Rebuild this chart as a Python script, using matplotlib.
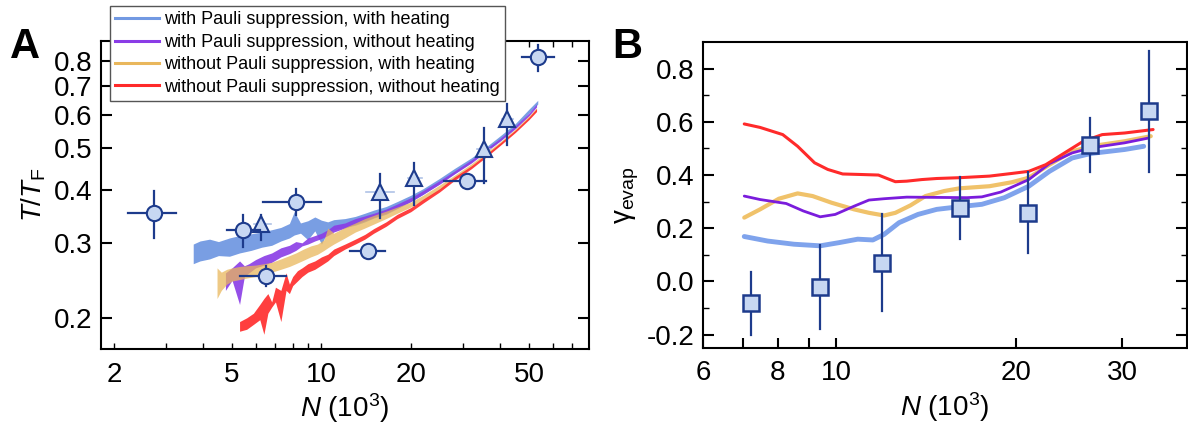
import matplotlib
matplotlib.use("Agg")
import matplotlib.pyplot as plt
from matplotlib.ticker import FixedLocator, FixedFormatter, NullFormatter, NullLocator
from matplotlib.lines import Line2D

plt.rcParams['font.family'] = ['Liberation Sans', 'DejaVu Sans']
plt.rcParams['mathtext.fontset'] = 'custom'
plt.rcParams['mathtext.rm'] = 'Liberation Sans'
plt.rcParams['mathtext.it'] = 'Liberation Sans:italic'
plt.rcParams['mathtext.bf'] = 'Liberation Sans:bold'

# ---------------- Panel A data ----------------
blue_x = [3.7, 3.9, 4.2, 4.5, 4.9, 5.3, 5.8, 6.3, 6.8, 7.3, 7.8, 8.1, 8.5, 9.0, 9.5, 10.0, 10.5, 11.0, 12.0, 13.0, 14.0,
          15.0, 16.5, 18.0, 20.0, 22.0, 25.0, 28.0, 32.0, 36.0, 40.0, 45.0, 50.0, 53.5]
blue_hi = [0.298, 0.303, 0.306, 0.302, 0.308, 0.312, 0.315, 0.318, 0.322, 0.326, 0.333, 0.355, 0.334, 0.338, 0.345,
           0.339, 0.336, 0.340, 0.342, 0.346, 0.352, 0.358, 0.365, 0.375, 0.388, 0.402, 0.425, 0.448, 0.475, 0.505,
           0.535, 0.572, 0.618, 0.648]
blue_lo = [0.268, 0.272, 0.275, 0.280, 0.279, 0.284, 0.288, 0.293, 0.296, 0.303, 0.308, 0.313, 0.316, 0.305, 0.320,
           0.298, 0.318, 0.322, 0.326, 0.330, 0.336, 0.343, 0.350, 0.361, 0.375, 0.390, 0.413, 0.436, 0.464, 0.493,
           0.522, 0.560, 0.605, 0.635]

purple_x = [4.75, 5.0, 5.3, 5.5, 5.7, 6.0, 6.4, 6.8, 7.3, 7.8, 8.2, 8.6, 9.0, 9.5, 10.0, 10.5, 11.0, 12.0, 13.0, 14.0,
            15.0, 16.5, 18.0, 20.0, 22.0, 25.0, 28.0, 32.0, 36.0, 40.0, 45.0, 50.0, 53.0]
purple_hi = [0.255, 0.262, 0.272, 0.265, 0.268, 0.274, 0.280, 0.284, 0.292, 0.296, 0.302, 0.300, 0.308, 0.312, 0.316,
             0.322, 0.330, 0.334, 0.342, 0.347, 0.352, 0.360, 0.370, 0.383, 0.398, 0.420, 0.442, 0.470, 0.500, 0.528,
             0.565, 0.605, 0.635]
purple_lo = [0.232, 0.245, 0.215, 0.250, 0.255, 0.262, 0.266, 0.270, 0.278, 0.283, 0.288, 0.295, 0.298, 0.303, 0.307,
             0.312, 0.318, 0.325, 0.332, 0.338, 0.344, 0.352, 0.362, 0.375, 0.390, 0.412, 0.435, 0.462, 0.492, 0.520,
             0.556, 0.596, 0.625]

yellow_x = [4.45, 4.6, 4.8, 5.0, 5.3, 5.6, 6.0, 6.4, 6.8, 7.3, 7.8, 8.2, 8.7, 9.2, 9.7, 10.2, 10.5, 11.0, 12.0, 13.0,
            14.0, 15.0, 16.5, 18.0, 20.0, 22.0, 25.0, 28.0, 32.0, 36.0, 40.0, 45.0, 50.0, 53.0]
yellow_hi = [0.262, 0.256, 0.260, 0.262, 0.264, 0.265, 0.266, 0.268, 0.270, 0.275, 0.280, 0.284, 0.290, 0.295, 0.298,
             0.305, 0.325, 0.316, 0.326, 0.334, 0.342, 0.348, 0.356, 0.364, 0.374, 0.388, 0.410, 0.432, 0.460, 0.490,
             0.518, 0.555, 0.596, 0.622]
yellow_lo = [0.222, 0.232, 0.240, 0.244, 0.246, 0.248, 0.250, 0.253, 0.256, 0.260, 0.264, 0.268, 0.273, 0.278, 0.282,
             0.288, 0.292, 0.298, 0.308, 0.318, 0.325, 0.332, 0.342, 0.352, 0.364, 0.378, 0.400, 0.424, 0.452, 0.482,
             0.510, 0.548, 0.588, 0.612]

red_x = [5.3, 5.6, 5.9, 6.2, 6.4, 6.6, 6.8, 7.0, 7.3, 7.6, 7.8, 8.0, 8.3, 8.6, 9.0, 9.5, 10.0, 10.5, 11.0, 12.0, 13.0,
         14.0, 15.0, 16.5, 18.0, 20.0, 22.0, 25.0, 28.0, 32.0, 36.0, 40.0, 45.0, 50.0, 53.0]
red_hi = [0.196, 0.200, 0.205, 0.215, 0.222, 0.228, 0.218, 0.236, 0.232, 0.255, 0.240, 0.250, 0.258, 0.262, 0.268,
          0.272, 0.278, 0.282, 0.290, 0.298, 0.306, 0.314, 0.324, 0.336, 0.350, 0.363, 0.380, 0.402, 0.428, 0.455,
          0.485, 0.515, 0.552, 0.592, 0.620]
red_lo = [0.186, 0.188, 0.193, 0.198, 0.183, 0.205, 0.212, 0.218, 0.196, 0.232, 0.228, 0.238, 0.244, 0.250, 0.256,
          0.260, 0.266, 0.272, 0.280, 0.290, 0.298, 0.306, 0.316, 0.328, 0.342, 0.355, 0.372, 0.395, 0.420, 0.448,
          0.478, 0.508, 0.545, 0.584, 0.610]

circ_x = [2.74, 5.46, 6.51, 8.20, 14.36, 30.8, 53.4]
circ_y = [0.353, 0.322, 0.251, 0.375, 0.287, 0.420, 0.819]
circ_xlo = [2.24, 4.80, 5.33, 6.34, 12.5, 25.8, 47.5]
circ_xhi = [3.24, 6.22, 7.61, 10.0, 16.4, 35.8, 60.6]
circ_ylo = [0.308, 0.294, 0.237, 0.348, 0.280, 0.410, 0.760]
circ_yhi = [0.396, 0.349, 0.264, 0.401, 0.295, 0.430, 0.876]

tri_x = [6.26, 15.69, 20.5, 35.2, 42.1]
tri_y = [0.333, 0.394, 0.426, 0.498, 0.586]
tri_xlo = [5.95, 14.1, 19.6, 33.5, 40.5]
tri_xhi = [6.75, 17.6, 21.8, 37.0, 44.0]
tri_ylo = [0.305, 0.343, 0.369, 0.415, 0.510]
tri_yhi = [0.349, 0.436, 0.462, 0.558, 0.635]

legend_labels = ["with Pauli suppression, with heating",
                 "with Pauli suppression, without heating",
                 "without Pauli suppression, with heating",
                 "without Pauli suppression, without heating"]

# ---------------- Panel B data ----------------
redB_x = [7.03, 7.47, 8.15, 8.63, 9.21, 9.69, 10.26, 11.03, 11.77, 12.2, 12.56, 13.12, 13.9, 14.72, 16.06, 18.03,
          19.65, 20.97, 22.38, 24.05, 25.85, 27.8, 30.3, 33.8]
redB_y = [0.592, 0.579, 0.552, 0.508, 0.446, 0.421, 0.404, 0.402, 0.400, 0.386, 0.375, 0.377, 0.383, 0.387, 0.390,
          0.396, 0.406, 0.414, 0.439, 0.483, 0.527, 0.552, 0.558, 0.571]

purpB_x = [7.03, 7.47, 8.26, 8.82, 9.41, 9.97, 10.72, 11.35, 12.03, 13.12, 14.72, 16.53, 17.51, 18.83, 20.97, 22.7,
           24.76, 26.6, 30.3, 33.2]
purpB_y = [0.321, 0.308, 0.293, 0.265, 0.243, 0.252, 0.283, 0.306, 0.311, 0.317, 0.316, 0.315, 0.318, 0.336, 0.383,
           0.443, 0.483, 0.502, 0.521, 0.539]

yellB_x = [7.03, 7.47, 8.03, 8.63, 9.14, 9.83, 10.72, 11.35, 12.03, 12.56, 13.31, 14.1, 15.16, 16.06, 18.03, 19.65,
           20.97, 22.7, 24.76, 26.6, 30.3, 33.5]
yellB_y = [0.240, 0.271, 0.311, 0.331, 0.321, 0.296, 0.271, 0.258, 0.248, 0.258, 0.286, 0.321, 0.340, 0.350, 0.358,
           0.373, 0.390, 0.439, 0.489, 0.508, 0.527, 0.546]

blueB_x = [7.03, 7.69, 8.51, 9.41, 10.12, 10.87, 11.52, 12.03, 12.74, 13.7, 14.72, 16.06, 17.51, 19.1, 20.97, 22.7,
           24.76, 26.6, 30.3, 32.6]
blueB_y = [0.169, 0.152, 0.140, 0.134, 0.146, 0.159, 0.156, 0.177, 0.221, 0.252, 0.271, 0.281, 0.290, 0.315, 0.358,
           0.414, 0.464, 0.481, 0.496, 0.508]

sq_x = [7.22, 9.41, 11.91, 16.1, 20.9, 26.5, 33.3]
sq_y = [-0.082, -0.019, 0.071, 0.275, 0.258, 0.513, 0.639]
sq_ylo = [-0.203, -0.179, -0.110, 0.159, 0.106, 0.412, 0.412]
sq_yhi = [0.037, 0.137, 0.255, 0.392, 0.411, 0.614, 0.868]

# ---------------- styles ----------------
C_BLUE = '#7299E2'
C_PURPLE = '#8A3CE6'
C_YELLOW = '#E9B75C'
C_RED = '#FF2A2A'
C_PURPLE_LINE = '#7A1CDC'
C_YELLOW_LINE = '#F0C26A'
C_BLUE_LINE = '#7FA3EC'
NAVY = '#1D3B8C'
FACE = '#C7D7F2'

TICK_FS = 20
W, H = 1188, 428
fig = plt.figure(figsize=(W / 100, H / 100), dpi=100)

axA = fig.add_axes([101 / W, 1 - 349 / H, (589 - 101) / W, (349 - 41) / H])
axB = fig.add_axes([703 / W, 1 - 348 / H, (1187 - 703) / W, (348 - 42) / H])

# ---- Panel A ----
axA.fill_between(blue_x, blue_lo, blue_hi, color=C_BLUE, lw=0, alpha=0.95, zorder=2)
axA.fill_between(purple_x, purple_lo, purple_hi, color=C_PURPLE, lw=0, alpha=0.9, zorder=3)
axA.fill_between(yellow_x, yellow_lo, yellow_hi, color=C_YELLOW, lw=0, alpha=0.75, zorder=4)
axA.fill_between(red_x, red_lo, red_hi, color=C_RED, lw=0, alpha=0.9, zorder=5)

for i in range(len(tri_x)):
    axA.plot([tri_xlo[i], tri_xhi[i]], [tri_y[i], tri_y[i]], color='#AFC2E6', lw=1.2, zorder=6)
    axA.plot([tri_x[i], tri_x[i]], [tri_ylo[i], tri_yhi[i]], color=NAVY, lw=1.6, zorder=6)
axA.plot(tri_x, tri_y, ls='none', marker='^', ms=12, mfc=FACE, mec=NAVY, mew=1.5, zorder=7)

for i in range(len(circ_x)):
    axA.plot([circ_xlo[i], circ_xhi[i]], [circ_y[i], circ_y[i]], color=NAVY, lw=1.6, zorder=8)
    axA.plot([circ_x[i], circ_x[i]], [circ_ylo[i], circ_yhi[i]], color=NAVY, lw=1.6, zorder=8)
axA.plot(circ_x, circ_y, ls='none', marker='o', ms=11, mfc=FACE, mec=NAVY, mew=1.5, zorder=9)

axA.set_xscale('log')
axA.set_yscale('log')
axA.set_xlim(1.81, 79.6)
axA.set_ylim(0.169, 0.893)
axA.xaxis.set_major_locator(FixedLocator([2, 5, 10, 20, 50]))
axA.xaxis.set_major_formatter(FixedFormatter(['2', '5', '10', '20', '50']))
axA.xaxis.set_minor_locator(FixedLocator([3, 4, 6, 7, 8, 9, 30, 40, 60, 70]))
axA.xaxis.set_minor_formatter(NullFormatter())
yt = [0.2, 0.3, 0.4, 0.5, 0.6, 0.7, 0.8]
axA.yaxis.set_major_locator(FixedLocator(yt))
axA.yaxis.set_major_formatter(FixedFormatter(['%.1f' % v for v in yt]))
axA.yaxis.set_minor_locator(NullLocator())
axA.tick_params(axis='y', which='major', direction='in', length=8, width=1.5, left=True, right=True,
                labelsize=TICK_FS, pad=6)
axA.tick_params(axis='x', which='both', direction='in', length=4, width=1.0, top=True, bottom=True,
                labelsize=TICK_FS, pad=9)
axA.set_xlabel(r'$N$ (10$^3$)', fontsize=TICK_FS, labelpad=3)
axA.set_ylabel(r'$T/T_{\mathrm{F}}$', fontsize=TICK_FS, labelpad=4)
for s in axA.spines.values():
    s.set_linewidth(1.5)

handles = [Line2D([], [], color=C_BLUE, lw=2.2), Line2D([], [], color=C_PURPLE, lw=2.2),
           Line2D([], [], color=C_YELLOW, lw=2.2), Line2D([], [], color=C_RED, lw=2.2)]
leg = fig.legend(handles, legend_labels, loc='upper left', bbox_to_anchor=(110 / W, 1 - 6 / H),
                 bbox_transform=fig.transFigure, fontsize=13, frameon=True, fancybox=False,
                 edgecolor='#555555', framealpha=1, borderpad=0.3, labelspacing=0.3,
                 handlelength=2.4, handletextpad=0.3, borderaxespad=0)
leg.get_frame().set_linewidth(1.0)
leg.set_zorder(20)

fig.text(10 / W, 1 - 47 / H, 'A', fontsize=30, fontweight='bold', va='center', ha='left')
fig.text(612 / W, 1 - 47 / H, 'B', fontsize=30, fontweight='bold', va='center', ha='left')

# ---- Panel B ----
axB.plot(blueB_x, blueB_y, color=C_BLUE_LINE, lw=3.5, solid_capstyle='round', zorder=2)
axB.plot(yellB_x, yellB_y, color=C_YELLOW_LINE, lw=3.0, solid_capstyle='round', zorder=3)
axB.plot(purpB_x, purpB_y, color=C_PURPLE_LINE, lw=2.0, solid_capstyle='round', zorder=4)
axB.plot(redB_x, redB_y, color=C_RED, lw=2.2, solid_capstyle='round', zorder=5)

for i in range(len(sq_x)):
    axB.plot([sq_x[i], sq_x[i]], [sq_ylo[i], sq_yhi[i]], color=NAVY, lw=1.6, zorder=6)
axB.plot(sq_x, sq_y, ls='none', marker='s', ms=11, mfc=FACE, mec=NAVY, mew=1.8, zorder=7)

axB.set_xscale('log')
axB.set_xlim(6, 38.5)
axB.set_ylim(-0.25, 0.9)
axB.xaxis.set_major_locator(FixedLocator([6, 8, 10, 20, 30]))
axB.xaxis.set_major_formatter(FixedFormatter(['6', '8', '10', '20', '30']))
axB.xaxis.set_minor_locator(FixedLocator([7, 9]))
axB.xaxis.set_minor_formatter(NullFormatter())
ytB = [-0.2, 0.0, 0.2, 0.4, 0.6, 0.8]
axB.yaxis.set_major_locator(FixedLocator(ytB))
axB.yaxis.set_major_formatter(FixedFormatter(['-0.2', '0.0', '0.2', '0.4', '0.6', '0.8']))
axB.yaxis.set_minor_locator(FixedLocator([-0.1, 0.1, 0.3, 0.5, 0.7]))
axB.tick_params(axis='y', which='major', direction='in', length=8, width=1.5, left=True, right=True,
                labelsize=TICK_FS, pad=6)
axB.tick_params(axis='y', which='minor', direction='in', length=4, width=1.0, left=True, right=True)
axB.tick_params(axis='x', which='both', direction='in', length=7, width=1.5, top=False, bottom=True,
                labelsize=TICK_FS, pad=9)
axB.set_xlabel(r'$N$ (10$^3$)', fontsize=TICK_FS, labelpad=3)
axB.set_ylabel('γ$_{\\mathrm{evap}}$', fontsize=TICK_FS, labelpad=4)
for s in axB.spines.values():
    s.set_linewidth(1.5)

fig.savefig('out.png', dpi=100)
